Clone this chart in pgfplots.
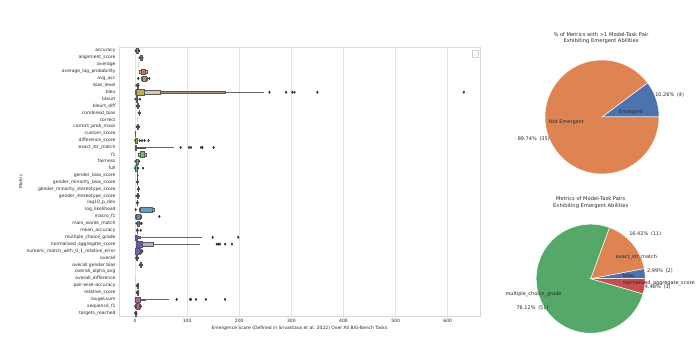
\documentclass[border=0pt]{standalone}
\usepackage{pgfplots}
\pgfplotsset{compat=1.18}
\usepgfplotslibrary{statistics}
\usepackage{fontspec}
\setmainfont{DejaVu Sans}
\definecolor{txt}{RGB}{40,40,40}
\definecolor{pblue}{RGB}{76,114,176}
\definecolor{porange}{RGB}{221,132,82}
\definecolor{pgreen}{RGB}{85,168,104}
\definecolor{pred}{RGB}{196,78,82}
\foreach \i in {0,...,38}{\pgfmathsetmacro\h{mod(0.965+\i*0.0255,1)}\definecolor{tmpc}{hsb}{\h,0.55,0.78}\xglobal\colorlet{c\i}[rgb]{tmpc}}
% idx, fill, lower end, box low, box high, upper end, box extend
\newcommand\lv[7]{\addplot[forget plot, boxplot prepared={draw position=#1, lower whisker=#3, lower quartile=#4, median=#4, upper quartile=#5, upper whisker=#6, box extend=#7, whisker extend=0}, draw=black!65, line width=0.3pt, fill=#2] coordinates {};}
\newcommand\lvf[2]{\addplot[forget plot, boxplot prepared={draw position=#1, lower whisker=#2, lower quartile=#2, median=#2, upper quartile=#2, upper whisker=#2, box extend=0.7, whisker extend=0}, draw=gray!35, line width=0.5pt] coordinates {};}
\newcommand\lab{\fontsize{4.5}{5}\selectfont}
\newcommand\plab{\fontsize{5}{6}\selectfont}
\begin{document}
\begin{tikzpicture}
\path[use as bounding box] (0,0) rectangle (700bp,353bp);
\begin{axis}[
  at={(119bp,37bp)}, anchor=south west, scale only axis,
  width=361bp, height=269bp,
  xmin=-30.7, xmax=662, ymin=-0.55, ymax=38.4, y dir=reverse,
  xtick={0,100,...,600}, ytick={0,...,38},
  yticklabels={accuracy,alignment\_score,average,average\_log\_probability,avg\_acc,bias\_level,bleu,bleurt,bleurt\_diff,combined\_bias,correct,correct\_prob\_mass,custom\_score,difference\_score,exact\_str\_match,f1,fairness,full,gender\_bias\_score,gender\_minority\_bias\_score,gender\_minority\_stereotype\_score,gender\_stereotype\_score,log10\_p\_dev,log\_likelihood,macro\_f1,main\_words\_match,mean\_accuracy,multiple\_choice\_grade,normalized\_aggregate\_score,numeric\_match\_with\_0\_1\_relative\_error,overall,overall gender bias,overall\_alpha\_avg,overall\_difference,pair-wise-accuracy,relative\_score,rougeLsum,sequence\_f1,targets\_reached},
  major tick length=0pt, tick style={draw=none},
  xmajorgrids, grid style={gray!22, line width=0.6pt},
  axis line style={gray!30, line width=0.6pt},
  tick label style={font=\lab, text=txt},
  /pgf/number format/assume math mode=true,
  xlabel={Emergence Score (Defined in Srivastava et al. 2022) Over All BIG-Bench Tasks},
  ylabel={Metric},
  label style={font=\lab, text=txt},
  xlabel style={at={(axis description cs:0.5,-0.045)}, anchor=center},
  ylabel style={at={(axis description cs:-0.272,0.5)}, anchor=center},
  boxplot/draw direction=x,
  boxplot/every whisker/.style={draw=black!60, line width=0.6pt},
  legend style={at={(0.995,0.99)}, anchor=north east, draw=gray!35, inner sep=1pt, font=\lab},
]
\addlegendimage{empty legend}\addlegendentry{}
\lv{0}{c0}{1}{2}{6.5}{8.5}{0.75}
\lv{1}{c1}{8.5}{10}{13}{14.5}{0.75}
\lvf{2}{6.4}
\lv{3}{c3!55!white}{7}{8}{23}{25}{0.45}
\lv{3}{c3}{11}{11}{20}{20}{0.8}
\lv{4}{c4!55!white}{11}{11.5}{23.5}{24}{0.5}
\lv{4}{c4}{13}{13}{21}{21}{0.8}
\lv{5}{c5}{2.5}{3.5}{5.5}{7}{0.75}
\lv{6}{c6!45!gray}{0.5}{0.5}{173}{248}{0.3}
\lv{6}{c6!60!white}{1}{1}{48}{48}{0.5}
\lv{6}{c6}{1.3}{1.3}{18}{18}{0.8}
\lv{7}{c7}{0.5}{1.5}{5}{6.5}{0.75}
\lv{8}{c8}{3}{4}{7}{8}{0.75}
\lv{9}{c9}{6.5}{7.3}{8.7}{9.5}{0.75}
\lvf{10}{3.5}
\lv{11}{c11}{3}{4}{7}{8}{0.75}
\lv{12}{c12}{0}{0}{0.3}{0.3}{0.7}
\lv{13}{c13}{0.3}{1}{4.5}{6}{0.75}
\lv{14}{c14!50!gray}{0}{0}{20}{75}{0.22}
\lv{14}{c14}{0}{0}{2.5}{2.5}{0.8}
\lv{15}{c15!60!white}{6}{7}{21}{22}{0.5}
\lv{15}{c15}{9.5}{9.5}{18}{18}{0.8}
\lv{16}{c16}{0.5}{2}{6}{8}{0.75}
\lv{17}{c17}{0}{1}{4.5}{6.4}{0.75}
\lv{18}{c18}{4}{4.2}{5}{5.2}{0.75}
\lv{19}{c19}{3.5}{4}{5}{5.5}{0.75}
\lv{20}{c20}{5.5}{6}{7}{7.5}{0.75}
\lv{21}{c21}{2.5}{4}{6.5}{7.7}{0.75}
\lv{22}{c22}{3.5}{4}{5}{5.5}{0.75}
\lv{23}{c23!60!white}{8}{8.3}{36}{38.4}{0.5}
\lv{23}{c23}{9}{9}{33}{33}{0.8}
\lv{24}{c24!60!white}{0.5}{1}{12}{14}{0.5}
\lv{24}{c24}{1.5}{1.5}{9.5}{9.5}{0.8}
\lv{25}{c25}{2.5}{4}{8}{10}{0.75}
\lv{26}{c26}{3.5}{4}{5}{5.5}{0.75}
\lv{27}{c27!50!gray}{0}{0}{10}{128}{0.22}
\lv{27}{c27}{0.3}{0.3}{4.5}{4.5}{0.75}
\lv{28}{c28!50!white}{2}{2}{35}{124.8}{0.45}
\lv{28}{c28}{2.5}{2.5}{12.8}{12.8}{0.8}
\lv{29}{c29!60!white}{0}{0.5}{11}{13.5}{0.5}
\lv{29}{c29}{1}{1}{9}{9}{0.8}
\lv{30}{c30}{2}{3}{5}{5.8}{0.75}
\lv{31}{c31}{9}{10}{12.5}{13.4}{0.75}
\lvf{33}{1.3}
\lv{34}{c34}{3}{4}{5.5}{6.4}{0.75}
\lv{35}{c35}{3}{4}{5.5}{6.4}{0.75}
\lv{36}{c36!50!gray}{0}{0}{20}{66}{0.22}
\lv{36}{c36}{0}{0}{9.6}{9.6}{0.75}
\lv{37}{c37!60!white}{0}{0.5}{10}{11.5}{0.5}
\lv{37}{c37}{1.5}{1.5}{8}{8}{0.8}
\lv{38}{c38}{0}{0.5}{2}{3}{0.75}
\addplot[only marks, mark=diamond*, mark size=1.2pt, color=black!80, forget plot] table {
x y
258 6
290 6
302 6
306 6
350 6
631 6
6.4 4
27.5 4
9.6 7
9 13
13.5 13
18.5 13
26 13
87.6 14
103.6 14
107.5 14
126.7 14
129.2 14
151 14
15.5 17
1.3 23
46.7 24
12.5 25
11 26
149 27
198 27
157 28
160 28
163 28
173 28
186 28
14 29
80 36
105.6 36
107.5 36
117 36
136 36
172.8 36
};
\addplot[only marks, mark=diamond*, mark size=1pt, color=black!75, forget plot] table {
x y
1 0
8.5 0
8.5 1
14.5 1
2.5 5
7 5
0.5 7
3 8
8 8
7 9
9.5 9
3 11
8 11
0.3 13
0.5 16
8 16
0 17
6.4 17
3.5 19
5.5 19
5.5 20
7.5 20
2.5 21
7.7 21
3.5 22
5.5 22
2.5 25
10 25
3.5 26
5.5 26
2 30
5.8 30
9 31
13.4 31
3 34
6.4 34
3 35
6.4 35
0 37
11.5 37
0 38
3 38
};
\end{axis}
% Pie 1
\begin{axis}[at={(602bp,236bp)}, anchor=center, scale only axis, width=148.2bp, height=148.2bp,
  xmin=-1.3, xmax=1.3, ymin=-1.3, ymax=1.3, hide axis, clip=false]
\addplot[fill=pblue, draw=white, line width=0.5pt, domain=0:36.923, samples=30] ({cos(x)},{sin(x)}) -- (axis cs:0,0) -- cycle;
\addplot[fill=porange, draw=white, line width=0.5pt, domain=36.923:360, samples=120] ({cos(x)},{sin(x)}) -- (axis cs:0,0) -- cycle;
\end{axis}
% Pie 2
\begin{axis}[at={(590.7bp,74.3bp)}, anchor=center, scale only axis, width=141.7bp, height=141.7bp,
  xmin=-1.3, xmax=1.3, ymin=-1.3, ymax=1.3, hide axis, clip=false]
\addplot[fill=pblue, draw=white, line width=0.5pt, domain=0:10.746, samples=10] ({cos(x)},{sin(x)}) -- (axis cs:0,0) -- cycle;
\addplot[fill=porange, draw=white, line width=0.5pt, domain=10.746:69.851, samples=30] ({cos(x)},{sin(x)}) -- (axis cs:0,0) -- cycle;
\addplot[fill=pgreen, draw=white, line width=0.5pt, domain=69.851:343.881, samples=100] ({cos(x)},{sin(x)}) -- (axis cs:0,0) -- cycle;
\addplot[fill=pred, draw=white, line width=0.5pt, domain=343.881:360, samples=10] ({cos(x)},{sin(x)}) -- (axis cs:0,0) -- cycle;
\end{axis}
\begin{scope}[every node/.style={font=\plab, text=txt, inner sep=0pt}]
\node[align=center, font=\fontsize{5.2}{6.4}\selectfont] at (601bp,315bp) {\% of Metrics with >1 Model-Task Pair\\Exhibiting Emergent Abilities};
\node at (631bp,241bp) {Emergent};
\node at (669.7bp,258.3bp) {10.26\%\hspace{0.55em}(4)};
\node at (566.5bp,230.3bp) {Not Emergent};
\node at (533.8bp,214bp) {89.74\%\hspace{0.55em}(35)};
\node[align=center, font=\fontsize{5.2}{6.4}\selectfont] at (590.7bp,150.5bp) {Metrics of Model-Task Pairs\\Exhibiting Emergent Abilities};
\node at (645.3bp,118.7bp) {16.42\%\hspace{0.55em}(11)};
\node[anchor=west] at (615.7bp,95.7bp) {exact\_str\_match};
\node at (660bp,81.7bp) {2.99\%\hspace{0.55em}(2)};
\node[anchor=west] at (623bp,77.7bp) {bleu};
\node[anchor=west] at (622.7bp,70bp) {normalized\_aggregate\_score};
\node at (657.8bp,65.7bp) {4.48\%\hspace{0.55em}(3)};
\node[anchor=east] at (561.7bp,59.3bp) {multiple\_choice\_grade};
\node at (532.5bp,45bp) {76.12\%\hspace{0.55em}(51)};
\end{scope}
\end{tikzpicture}
\end{document}
